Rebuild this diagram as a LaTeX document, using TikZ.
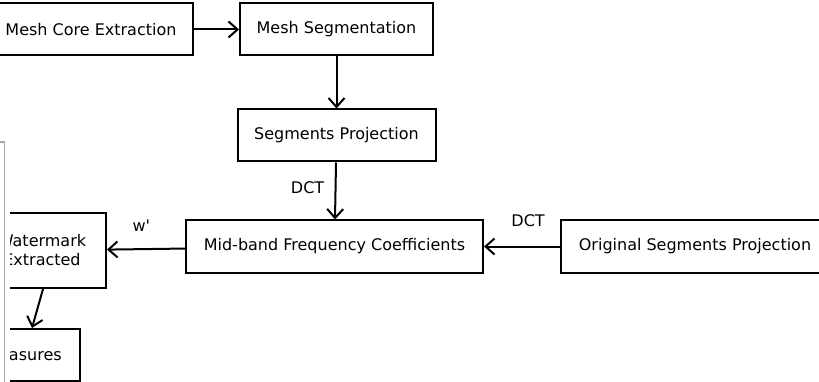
\documentclass[tikz,border=0pt]{standalone}
\usepackage{fontspec}
\setmainfont{DejaVu Sans}
\usetikzlibrary{arrows.meta, positioning, calc}

\begin{document}
\begin{tikzpicture}[x=1pt, y=-1pt, block/.style={rectangle,draw,line width=2pt,minimum height=52pt,inner sep=0pt,align=center}, ->, >={Straight Barb[length=9pt,width=16pt]}, line width=2pt, font=\fontsize{16}{19}\selectfont]
        \clip (0,0) rectangle (819,382);
        \node[block, minimum width=204pt] (core) at (91,29.5) {Mesh Core Extraction};
        \node[block, minimum width=193pt, right=45pt of core] (seg) {Mesh Segmentation};
        \node[block, minimum width=198pt, below=52pt of seg] (proj) {Segments Projection};
        \node[block, minimum width=297pt, below=57pt of proj, xshift=-2pt] (mid) {Mid-band Frequency Coefficients};
        \node[block, minimum width=268pt, right=76pt of mid] (orig) {Original Segments Projection};
        \node[block, minimum width=128pt, minimum height=75pt] (wm) at (42,250.5) {Watermark\\Extracted};
        \node[block, minimum width=113pt] (meas) at (23.5,355) {Measures};
        \path (core) edge (seg);
        \path (seg) edge (proj);
        \path (proj) edge node[left=7pt, pos=0.45] {DCT} (mid);
        \path (orig) edge node[above=15pt, pos=0.42] {DCT} (mid);
        \path (mid) edge node[above=13pt, pos=0.56] {w\textquotesingle} (wm);
        \draw ([xshift=1pt]wm.south) -- ([xshift=8.5pt]meas.north);
        % frame lying over the left side
        \fill[white] (-2,142) rectangle (9.5,384);
        \draw[-, gray!70, line width=1.2pt] (-2,142) -- (4.5,142) -- (4.5,384);
    \end{tikzpicture}
\end{document}
